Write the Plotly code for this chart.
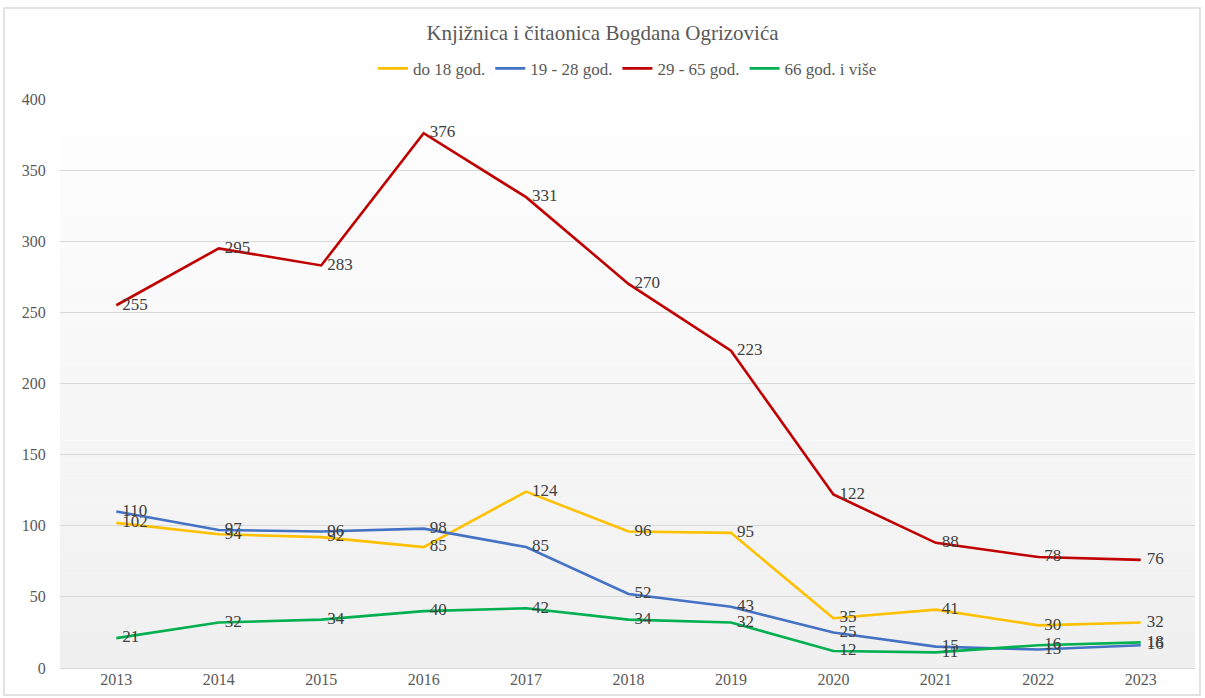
import plotly.graph_objects as go

years = ["2013", "2014", "2015", "2016", "2017", "2018", "2019", "2020", "2021", "2022", "2023"]
do18 = [102, 94, 92, 85, 124, 96, 95, 35, 41, 30, 32]
g19_28 = [110, 97, 96, 98, 85, 52, 43, 25, 15, 13, 16]
g29_65 = [255, 295, 283, 376, 331, 270, 223, 122, 88, 78, 76]
g66 = [21, 32, 34, 40, 42, 34, 32, 12, 11, 16, 18]

series = [
    ("do 18 god.", do18, "#FFC000"),
    ("19 - 28 god.", g19_28, "#4472C4"),
    ("29 - 65 god.", g29_65, "#C00000"),
    ("66 god. i više", g66, "#00B050"),
]

FONT = "Liberation Serif"
fig = go.Figure()
for name, vals, col in series:
    fig.add_trace(go.Scatter(
        x=years, y=vals, name=name, mode="lines+markers+text",
        line=dict(color=col, width=2.6),
        marker=dict(size=8, color="rgba(0,0,0,0)"),
        text=[str(v) for v in vals], textposition="middle right",
        textfont=dict(family=FONT, size=17, color="#404040"),
        cliponaxis=False,
    ))

shapes = []
n = 30
for i in range(n):
    g = int(255 - (255 - 240) * (i / (n - 1)))
    shapes.append(dict(type="rect", xref="x domain", yref="y domain",
                       x0=0, x1=1, y0=1 - (i + 1) / n, y1=1 - i / n,
                       fillcolor=f"rgb({g},{g},{g})", line=dict(width=0), layer="below"))
shapes.append(dict(type="rect", xref="paper", yref="paper",
                   x0=-0.0493, x1=1.0044, y0=-0.0475, y1=1.16,
                   line=dict(color="#D9D9D9", width=1.5), fillcolor="rgba(0,0,0,0)"))

fig.update_layout(
    width=1205, height=698,
    margin=dict(l=60, r=10, t=99, b=30),
    paper_bgcolor="white", plot_bgcolor="white",
    font=dict(family=FONT, color="#595959"),
    title=dict(text="Knjižnica i čitaonica Bogdana Ogrizovića", x=0.5, xanchor="center",
               yref="container", y=1 - 33 / 698, yanchor="middle",
               font=dict(family=FONT, size=21, color="#595959")),
    legend=dict(orientation="h", x=0.5, xanchor="center", y=1.053, yanchor="middle",
                font=dict(family=FONT, size=17, color="#595959"), itemwidth=30,
                bgcolor="rgba(0,0,0,0)"),
    shapes=shapes,
    xaxis=dict(showgrid=False, showline=False, zeroline=False, ticks="",
               range=[-0.55, 10.53], autorange=False,
               tickfont=dict(family=FONT, size=16, color="#595959")),
    yaxis=dict(range=[0, 400], dtick=50, showgrid=True, gridcolor="#D9D9D9", gridwidth=1.3,
               zeroline=True, zerolinecolor="#D9D9D9", zerolinewidth=1.3, showline=False,
               ticks="outside", ticklen=10, tickcolor="rgba(0,0,0,0)",
               tickfont=dict(family=FONT, size=16, color="#595959")),
)
fig.write_html("out.html", config={"displayModeBar": False},
               post_script="document.body.style.margin='0';")
